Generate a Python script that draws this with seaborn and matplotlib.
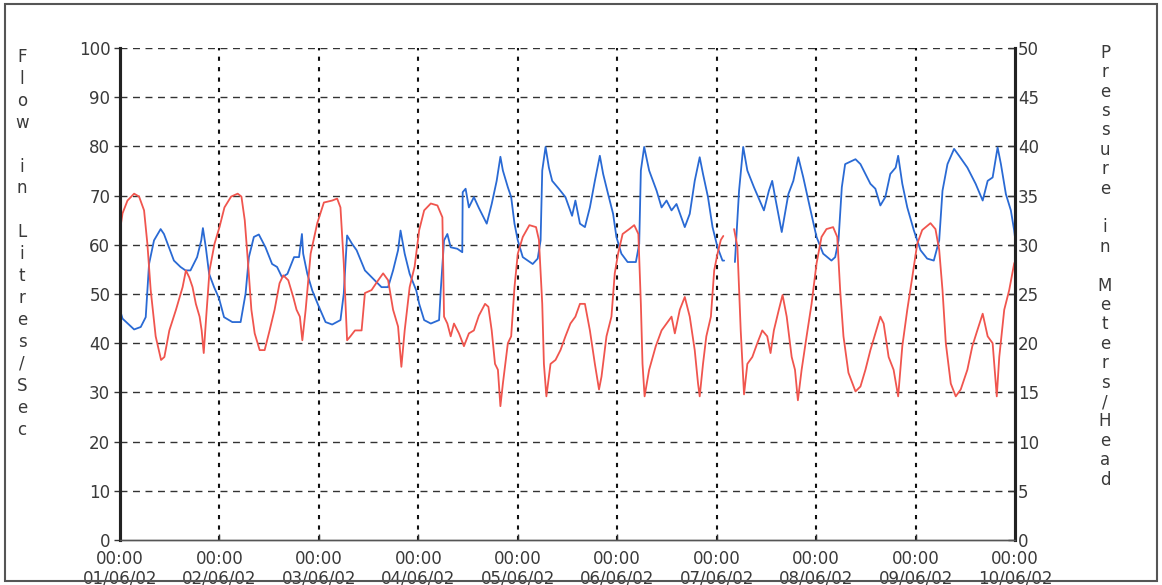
import numpy as np
import pandas as pd
import matplotlib
matplotlib.use("Agg")
import matplotlib.pyplot as plt
import seaborn as sns

# ==========================================================
# DATA (hours since 01/06/02 00:00)
# ==========================================================

flow_hours = [
    0, 0.6, 3.4, 5.0, 6.2, 7.0, 8.2, 9.8, 10.6, 11.8, 13.0, 14.6, 15.8, 17.0,
    18.6, 19.6, 20.0, 20.7, 21.5, 22.7, 23.9, 25.1, 27.1, 29.1, 30.3, 31.1,
    32.3, 33.5, 35.1, 36.7, 37.9, 39.1, 40.4, 42.0, 43.2, 43.9, 44.2, 45.2,
    46.4, 48.0, 49.6, 51.2, 53.2, 54.0, 54.4, 54.8, 56.0, 57.1, 59.1, 61.1,
    63.1, 64.7, 65.9, 67.1, 67.7, 68.7, 69.9, 71.5, 72.2, 73.4, 75.0, 77.0,
    77.4, 78.2, 79.0, 79.8, 81.4, 82.6, 82.7, 83.4, 84.2, 85.4, 86.6, 88.5,
    89.7, 90.9, 91.8, 92.4, 93.6, 94.4, 95.2, 96.0, 97.2, 99.6, 100.8, 101.5,
    101.9, 102.7, 103.5, 104.3, 105.9, 107.5, 109.1, 109.9, 111.0, 112.2,
    113.4, 114.6, 115.8, 116.6, 117.8, 119.0, 119.8, 121.0, 122.5, 124.5,
    125.3, 125.7, 126.5, 127.7, 129.5, 130.7, 131.9, 133.1, 134.3, 136.3,
    137.5, 138.7, 139.9, 140.7, 141.9, 143.0, 144.2, 145.4, 145.8, 147.0,
    148.4, 149.4, 150.4, 151.4, 153.0, 155.4, 156.6, 157.4, 158.1, 159.7,
    161.3, 162.5, 163.7, 164.9, 166.5, 168.1, 169.7, 171.7, 172.6, 173.4,
    174.2, 175.0, 177.5, 178.7, 179.9, 181.1, 182.3, 183.5, 184.7, 185.9,
    187.2, 187.8, 188.8, 190.0, 191.6, 193.2, 194.8, 196.4, 197.7, 198.5,
    199.7, 201.3, 202.5, 204.5, 206.5, 208.2, 209.4, 210.6, 211.8, 212.6,
    213.8, 215.0, 215.8, 216.0,
]
flow_lps = [
    46.7, 45.0, 42.8, 43.3, 45.3, 56.1, 60.9, 63.2, 62.2, 59.5, 56.8, 55.5,
    54.8, 54.8, 57.5, 60.9, 63.4, 59.5, 54.1, 51.4, 49.1, 45.3, 44.3, 44.3,
    50.1, 57.5, 61.6, 62.1, 59.5, 56.1, 55.5, 53.4, 54.1, 57.5, 57.5, 62.2,
    58.2, 54.1, 50.7, 47.4, 44.3, 43.8, 44.7, 50.1, 56.1, 61.9, 60.2, 58.9,
    54.8, 53.1, 51.4, 51.4, 54.8, 58.9, 62.9, 58.2, 54.1, 50.7, 48.0, 44.7,
    44.0, 44.7, 50.7, 60.9, 62.2, 59.5, 59.2, 58.5, 70.7, 71.4, 67.6, 69.7,
    67.5, 64.3, 68.3, 73.0, 77.9, 75.1, 71.7, 69.7, 64.3, 60.9, 57.5, 56.1,
    57.2, 60.9, 75.1, 79.9, 75.7, 73.0, 71.4, 69.7, 65.9, 69.0, 64.3, 63.6,
    67.6, 73.0, 78.1, 74.4, 70.3, 66.3, 61.6, 58.2, 56.5, 56.5, 60.2, 75.1,
    79.9, 75.1, 71.0, 67.6, 69.0, 67.0, 68.3, 63.6, 66.3, 73.0, 77.8, 74.4,
    69.7, 63.6, 59.5, 56.8, 56.8, np.nan, 56.5, 71.0, 79.9, 75.1, 71.7, 67.0,
    71.0, 73.0, 69.7, 62.6, 70.3, 73.0, 77.8, 73.7, 67.6, 61.6, 58.2, 56.8,
    57.5, 60.9, 71.7, 76.4, 77.4, 76.4, 74.4, 72.4, 71.4, 68.0, 69.7, 74.4,
    75.7, 78.1, 72.4, 67.6, 62.9, 58.9, 57.2, 56.8, 60.9, 71.0, 76.4, 79.5,
    78.1, 75.7, 72.4, 69.0, 73.0, 73.7, 79.8, 76.4, 70.3, 67.0, 62.9, 61.5,
]

pressure_hours = [
    0, 0.6, 1.8, 3.4, 4.6, 5.8, 6.6, 7.4, 8.6, 9.9, 10.7, 11.9, 13.5, 15.1,
    15.9, 16.7, 17.5, 18.3, 19.2, 19.7, 20.2, 20.8, 21.6, 22.8, 24.0, 25.2,
    26.8, 28.4, 29.3, 30.1, 30.9, 31.7, 32.5, 33.7, 34.9, 36.1, 37.3, 38.5,
    39.4, 40.6, 41.8, 42.6, 43.4, 44.0, 44.8, 46.0, 47.6, 49.2, 51.2, 52.4,
    53.2, 54.0, 54.8, 55.6, 56.7, 58.3, 59.1, 60.7, 62.3, 63.5, 64.7, 65.9,
    67.1, 67.9, 68.7, 69.9, 71.1, 72.2, 73.4, 75.0, 76.6, 77.8, 78.2, 79.0,
    79.8, 80.6, 81.8, 83.0, 84.2, 85.4, 86.6, 88.1, 88.9, 89.7, 90.5, 91.2,
    91.8, 92.4, 93.6, 94.4, 95.2, 96.0, 97.2, 98.8, 100.4, 101.1, 101.9,
    102.3, 102.9, 103.9, 105.1, 106.3, 107.5, 108.7, 109.9, 111.0, 112.2,
    113.4, 114.6, 115.6, 116.2, 117.4, 118.6, 119.4, 120.2, 121.3, 122.9,
    124.1, 125.1, 125.7, 126.1, 126.6, 127.7, 129.3, 130.7, 131.9, 133.1,
    133.9, 135.1, 136.3, 137.5, 138.7, 139.5, 139.9, 140.7, 141.5, 142.6,
    143.4, 144.2, 145.0, 145.6, 147.0, 148.2, 149.0, 149.8, 150.6, 151.4,
    152.6, 153.8, 155.0, 156.2, 157.0, 157.8, 159.0, 159.9, 160.9, 162.1,
    162.9, 163.6, 164.5, 165.7, 166.9, 168.1, 169.3, 170.5, 172.1, 173.1,
    173.8, 174.6, 175.8, 177.5, 178.7, 179.9, 181.1, 182.3, 183.5, 184.3,
    185.5, 186.7, 187.8, 188.8, 190.0, 191.2, 192.4, 193.6, 195.6, 196.8,
    197.7, 198.5, 199.3, 200.5, 201.7, 202.9, 204.5, 205.7, 206.9, 208.2,
    209.4, 210.6, 211.6, 212.2, 213.4, 214.6, 215.8, 216.0,
]
pressure_m = [
    31.5, 33.2, 34.5, 35.2, 34.9, 33.5, 30.1, 25.4, 20.7, 18.3, 18.6, 21.3,
    23.4, 25.7, 27.4, 26.7, 25.7, 24.0, 22.7, 21.3, 19.0, 22.7, 27.4, 30.1,
    31.8, 33.8, 34.9, 35.2, 34.9, 32.5, 28.1, 23.4, 21.0, 19.3, 19.3, 21.3,
    23.4, 26.1, 26.9, 26.4, 24.7, 23.4, 22.7, 20.3, 23.4, 29.1, 32.2, 34.3,
    34.5, 34.7, 33.8, 28.1, 20.3, 20.7, 21.3, 21.3, 25.1, 25.4, 26.4, 27.1,
    26.4, 23.4, 21.7, 17.6, 21.3, 25.7, 27.8, 31.5, 33.5, 34.2, 34.0, 32.8,
    22.7, 22.0, 20.7, 22.0, 21.0, 19.7, 21.0, 21.3, 22.8, 24.0, 23.7, 21.3,
    17.9, 17.3, 13.6, 15.9, 20.0, 20.7, 25.7, 29.1, 30.8, 32.0, 31.8, 30.5,
    24.0, 17.9, 14.6, 17.9, 18.3, 19.3, 20.7, 22.0, 22.7, 24.0, 24.0, 21.3,
    17.9, 15.3, 16.6, 20.7, 22.7, 27.1, 29.1, 31.1, 31.6, 32.0, 31.1, 24.0,
    17.9, 14.6, 17.3, 19.7, 21.3, 22.0, 22.7, 21.0, 23.4, 24.7, 22.7, 19.3,
    15.9, 14.6, 17.9, 20.7, 22.7, 27.4, 29.1, 30.5, 30.9, np.nan, 31.6, 29.8,
    21.3, 14.8, 17.9, 18.6, 20.0, 21.3, 20.7, 19.0, 21.3, 23.4, 24.9, 22.7,
    18.6, 17.3, 14.2, 17.3, 20.7, 24.0, 28.1, 30.8, 31.6, 31.8, 30.8, 25.4,
    20.7, 17.0, 15.1, 15.6, 17.3, 19.3, 21.0, 22.7, 22.0, 18.6, 17.3, 14.6,
    19.7, 23.4, 26.7, 30.1, 31.5, 32.2, 31.6, 29.5, 25.4, 20.0, 15.9, 14.6,
    15.3, 17.3, 19.7, 21.3, 23.0, 20.7, 20.0, 14.6, 18.6, 23.4, 25.4, 28.1,
    28.3,
]

day_labels = ["01/06/02", "02/06/02", "03/06/02", "04/06/02", "05/06/02",
              "06/06/02", "07/06/02", "08/06/02", "09/06/02", "10/06/02"]

# ==========================================================
# FRAMES (split at the logging gap)
# ==========================================================

flow = pd.DataFrame({"hours": flow_hours, "value": flow_lps})
flow["seg"] = flow["value"].isna().cumsum()
flow = flow.dropna()

pres = pd.DataFrame({"hours": pressure_hours, "value": pressure_m})
pres["seg"] = pres["value"].isna().cumsum()
pres = pres.dropna()

# ==========================================================
# PLOT
# ==========================================================

sns.set_theme(style="white")
plt.rcParams["font.family"] = ["DejaVu Sans"]
txt = "#3a3a3a"

fig = plt.figure(figsize=(11.62, 5.85), dpi=100)
ax = fig.add_axes([0.1033, 0.0769, 0.7702, 0.8410])
ax2 = ax.twinx()

sns.lineplot(data=flow, x="hours", y="value", units="seg", estimator=None,
             color="#2a6ad4", linewidth=1.3, ax=ax)
sns.lineplot(data=pres, x="hours", y="value", units="seg", estimator=None,
             color="#f0554e", linewidth=1.3, ax=ax2)

ax.set_xlim(0, 216)
ax.set_ylim(0, 100)
ax2.set_ylim(0, 50)
ax.set_xlabel("")
ax.set_ylabel("")
ax2.set_ylabel("")

ax.set_yticks(range(0, 101, 10))
ax2.set_yticks(range(0, 51, 5))
ax.set_xticks(range(0, 217, 24))
ax.set_xticklabels(["00:00\n" + d for d in day_labels])

# grid: long dashes horizontally, short dots vertically
for y in range(10, 101, 10):
    ax.axhline(y, color="#333333", lw=1.0, ls=(0, (5, 4)), zorder=0)
for x in range(24, 216, 24):
    ax.axvline(x, color="#111111", lw=1.5, ls=(0, (2, 3)), zorder=0)

for a in (ax, ax2):
    a.spines["top"].set_visible(False)
    a.spines["left"].set_color("#222222")
    a.spines["left"].set_linewidth(2.2)
    a.spines["right"].set_color("#222222")
    a.spines["right"].set_linewidth(2.2)
    a.spines["bottom"].set_color("#555555")
    a.spines["bottom"].set_linewidth(1.0)

ax.tick_params(axis="y", left=True, length=4, width=1, color="#333333",
               labelsize=12, labelcolor=txt, pad=3)
ax.tick_params(axis="x", bottom=True, direction="in", length=4, width=1,
               color="#333333", labelsize=12, labelcolor=txt, pad=7)
ax2.tick_params(axis="y", right=True, direction="in", length=5, width=1,
                color="#333333", labelsize=12, labelcolor=txt, pad=2)
for lab in ax.get_xticklabels():
    lab.set_linespacing(1.1)

# stacked axis titles, one letter per line
left_title = "\n".join(list("Flow") + [""] + list("in") + [""] + list("Litres/Sec"))
right_title = "\n".join(list("Pressure") + [""] + list("in") + [""] + list("Meters/Head"))
fig.text(0.019, 0.918, left_title, ha="center", va="top", fontsize=12,
         color=txt, linespacing=1.28)
fig.text(0.951, 0.925, right_title, ha="center", va="top", fontsize=12,
         color=txt, linespacing=1.10)

# outer frame
fig.add_artist(plt.Rectangle((0.004, 0.006), 0.992, 0.988,
                             transform=fig.transFigure, fill=False,
                             ec="#555555", lw=1.5))

fig.savefig("out.png", dpi=100)
